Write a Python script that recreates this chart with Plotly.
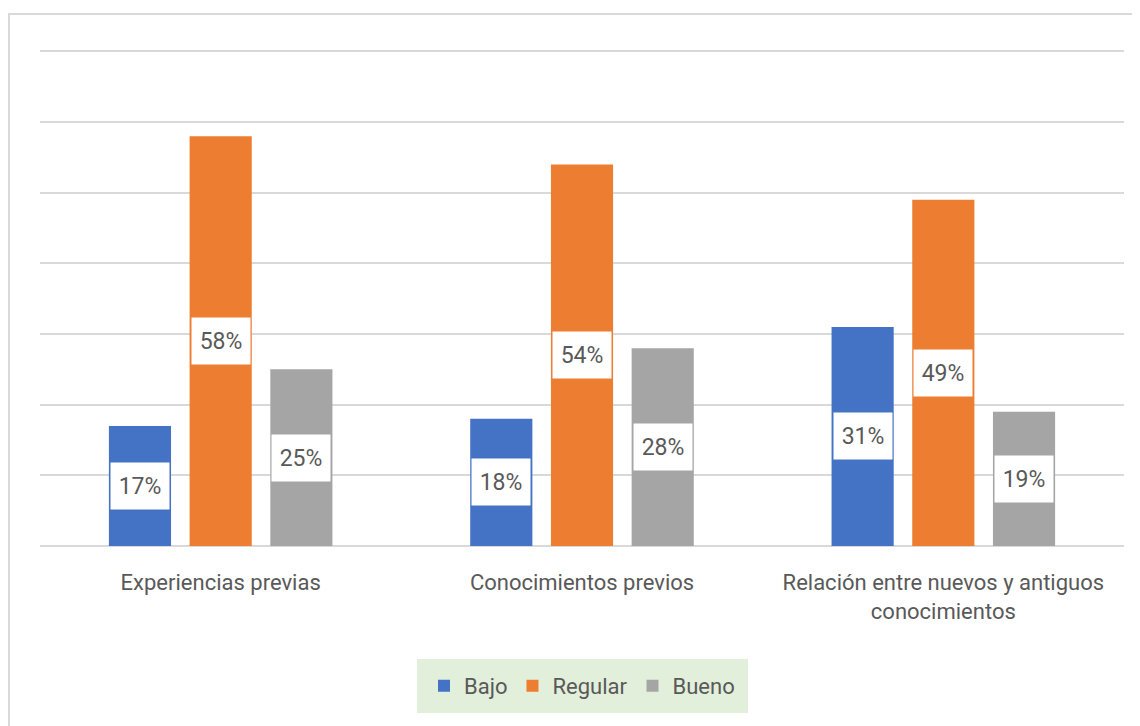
import plotly.graph_objects as go

categories = ["Experiencias previas", "Conocimientos previos",
              "Relación entre nuevos y antiguos<br>conocimientos"]
series_names = ["Bajo", "Regular", "Bueno"]
bajo = [17, 18, 31]
regular = [58, 54, 49]
bueno = [25, 28, 19]
colors = ["#4472c4", "#ed7d31", "#a5a5a5"]

values = [bajo, regular, bueno]
xs = list(range(len(categories)))
bargap = 0.33
font_family = "Roboto"
text_color = "#595959"

fig = go.Figure()
for name, vals, col in zip(series_names, values, colors):
    fig.add_trace(go.Bar(x=xs, y=vals, name=name, marker_color=col,
                         marker_line_width=0, hoverinfo="skip"))

slot = (1 - bargap) / len(series_names)
for i, vals in enumerate(values):
    for j, v in enumerate(vals):
        fig.add_annotation(
            x=xs[j] + (i - (len(series_names) - 1) / 2) * slot,
            y=v / 2, xref="x", yref="y", text=f"{v}%", showarrow=False,
            font=dict(family=font_family, size=23, color=text_color),
            bgcolor="white", width=54, height=42, borderpad=2)

# chart outer border
fig.add_shape(type="rect", xref="paper", yref="paper",
              x0=-0.0286, x1=1.2, y0=-1.0, y1=1.0726,
              line=dict(color="#d9d9d9", width=2), fillcolor="rgba(0,0,0,0)",
              layer="below")
# legend background box
fig.add_shape(type="rect", xref="paper", yref="paper",
              x0=0.3478, x1=0.6531, y0=-0.3367, y1=-0.2278,
              line=dict(width=0), fillcolor="#e2efda", layer="below")

fig.update_layout(
    width=1140, height=726,
    margin=dict(l=32, r=24, t=42, b=188),
    paper_bgcolor="white", plot_bgcolor="white",
    barmode="group", bargap=bargap, bargroupgap=0.23,
    font=dict(family=font_family, color=text_color, size=22),
    showlegend=True,
    legend=dict(orientation="h", x=0.5, xanchor="center", y=-0.282, yanchor="middle",
                bgcolor="rgba(0,0,0,0)", font=dict(size=22, color=text_color),
                itemsizing="constant", traceorder="normal"),
)
fig.update_xaxes(tickvals=xs, ticktext=categories, range=[-0.5, 2.5],
                 showgrid=False, zeroline=False, showline=False,
                 ticks="outside", ticklen=17, tickcolor="rgba(0,0,0,0)",
                 tickfont=dict(size=22, color=text_color))
fig.update_yaxes(range=[0, 70.2], tickvals=[10, 20, 30, 40, 50, 60, 70],
                 showticklabels=False,
                 showgrid=True, gridcolor="#d9d9d9", gridwidth=2,
                 zeroline=True, zerolinecolor="#d9d9d9", zerolinewidth=2)

fig.write_html("out.html")
